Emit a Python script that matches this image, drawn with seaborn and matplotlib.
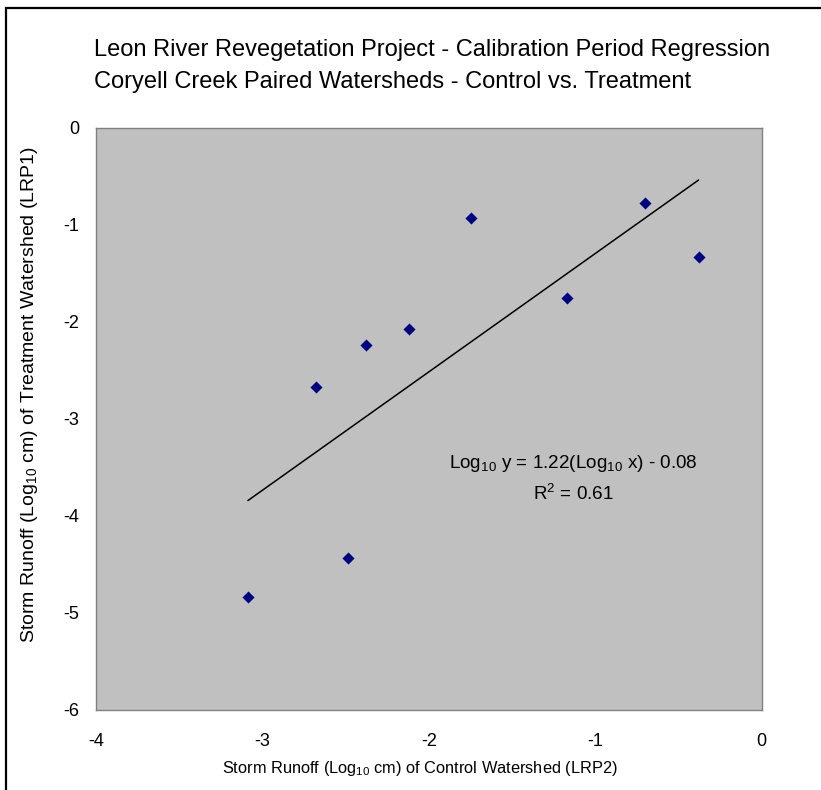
import numpy as np
import pandas as pd
import matplotlib
matplotlib.use("Agg")
import matplotlib.pyplot as plt
from matplotlib.patches import Rectangle
import seaborn as sns

# Log10 storm runoff (cm): control watershed (LRP2) vs treatment watershed (LRP1)
control_log = [-3.087, -2.676, -2.484, -2.377, -2.117, -1.745, -1.169, -0.701, -0.378]
treatment_log = [-4.84, -2.68, -4.435, -2.245, -2.08, -0.93, -1.76, -0.775, -1.338]

# Calibration regression reported on the chart
slope = 1.22
intercept = -0.08
r_squared = 0.61

x_ticks = [-4, -3, -2, -1, 0]
y_ticks = [0, -1, -2, -3, -4, -5, -6]

sns.set_theme(style="white")
plt.rcParams["font.family"] = ["Liberation Sans", "DejaVu Sans"]
plt.rcParams["mathtext.fontset"] = "custom"
plt.rcParams["mathtext.rm"] = "Liberation Sans"
plt.rcParams["mathtext.it"] = "Liberation Sans"
plt.rcParams["text.color"] = "black"
plt.rcParams["axes.labelcolor"] = "black"

df = pd.DataFrame({"control": control_log, "treatment": treatment_log})

fig = plt.figure(figsize=(8.21, 7.90), dpi=100)
fig.patch.set_facecolor("white")
ax = fig.add_axes([96 / 821, 1 - 709.5 / 790, (761.5 - 96) / 821, (709.5 - 127.5) / 790])
ax.set_facecolor("#C0C0C0")

# Outer chart frame
fig.add_artist(Rectangle((5.5 / 821, -0.05), 1.2, 1.05 - 8 / 790, transform=fig.transFigure,
                         fill=False, edgecolor="black", linewidth=1.6, clip_on=False))

sns.scatterplot(data=df, x="control", y="treatment", marker="D", s=38,
                color="#000080", edgecolor="#000080", linewidth=0, ax=ax, zorder=3)

xfit = np.array([min(control_log), max(control_log)])
sns.lineplot(x=xfit, y=slope * xfit + intercept, color="black", linewidth=1.1, ax=ax, zorder=2)

ax.set_xlim(-4, 0)
ax.set_ylim(-6, 0)
ax.set_xticks(x_ticks)
ax.set_yticks(y_ticks)
ax.set_xticklabels([str(t) for t in x_ticks])
ax.set_yticklabels([str(t) for t in y_ticks])
ax.tick_params(axis="both", length=0, labelsize=13, colors="black")
ax.tick_params(axis="x", pad=17)
ax.tick_params(axis="y", pad=12)
for s in ax.spines.values():
    s.set_color("#808080")
    s.set_linewidth(1.0)

ax.set_xlabel(r"Storm Runoff (Log$_{10}$ cm) of Control Watershed (LRP2)", fontsize=11.8)
ax.set_ylabel(r"Storm Runoff (Log$_{10}$ cm) of Treatment Watershed (LRP1)", fontsize=14)
ax.xaxis.label.set_va("center")
ax.yaxis.label.set_va("center")
ax.xaxis.set_label_coords((419.5 - 96) / 665.5, (709.5 - 768) / 582)
ax.yaxis.set_label_coords((30 - 96) / 665.5, (709.5 - 395) / 582)

ax.text(-1.133, -3.46, r"Log$_{10}$ y = %.2f(Log$_{10}$ x) - %.2f" % (slope, abs(intercept)),
        ha="center", va="center", fontsize=13.6)
ax.text(-1.133, -3.78, r"R$^{2}$ = %.2f" % r_squared, ha="center", va="center", fontsize=13.6)

fig.text(94 / 821, 1 - 50 / 790, "Leon River Revegetation Project - Calibration Period Regression",
         ha="left", va="center", fontsize=17)
fig.text(94 / 821, 1 - 82 / 790, "Coryell Creek Paired Watersheds - Control vs. Treatment",
         ha="left", va="center", fontsize=17)

fig.savefig("out.png", dpi=100)
